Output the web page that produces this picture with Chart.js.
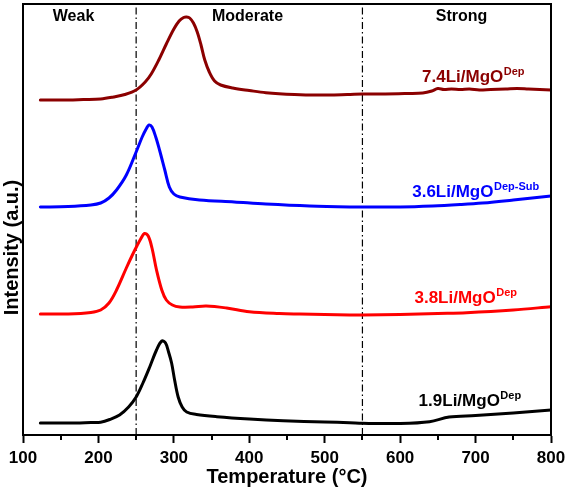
<!DOCTYPE html>
<html><head><meta charset="utf-8">
<script src="https://cdn.jsdelivr.net/npm/chart.js@4.4.0/dist/chart.umd.min.js"></script>
<style>html,body{margin:0;padding:0;background:#fff;}canvas{display:block;}</style>
</head><body>
<canvas id="c" width="571" height="489"></canvas>
<script>
// ---- data (temperature in °C, intensity in a.u. with vertical offsets as plotted) ----
const t74 = [123,150,180,203,220,235,250,262,270,280,290,300,307,313,317,321,326,331,336,341,347,354,362,378,400,422,460,490,530,550,580,610,630,642,650,658,668,680,692,705,720,740,755,770,785,800];
const i74 = [335,335,335.5,336,338,340.5,345,353,361,375,391,406,414,417.5,418,417,412,403,390,375,363,354,350,347,344.5,342.3,340.5,340,340.5,341,341,341.5,342,344,346.5,345.5,346,345.5,346,345,345.5,346,346.5,346,345.5,345];
const t36 = [123,160,190,203,214,224,237,250,258,264,267,271,276,281,288,294,300,308,334,380,422,480,533,550,600,643,680,709,750,800];
const i36 = [228,228.5,230,232,237,245,260,283,298,307,310,308,298,285,265,248,241,238,235,233,231,229,228,228,228,229,230.5,232,235,239];
const t38 = [123,160,190,203,214,224,237,245,251,256,261,266,271,277,284,290,298,308,325,343,370,400,440,467,533,550,600,650,688,750,800];
const i38 = [121,121,122.5,125,132,145,167,180,189,196,201.5,199,187,165,145,135,130,128,128,129,127,123.3,121.5,121,120,120,120.5,121.5,122.3,125,128.3];
const t19 = [123,160,190,203,215,228,240,250,259,268,277,284,289,293,297,301,305.7,311,317,330,357,400,445,500,533,550,600,639,665,700,750,800];
const i19 = [12,12,12.5,12.8,15.5,20,28,38,52,68,85,94,92,83,72,55,38,28,23,20.5,18.3,16,14.3,13,12.3,11.7,11.5,13.3,18,19.5,22,25];
const seriesNames = ['7.4Li/MgO', '3.6Li/MgO', '3.8Li/MgO', '1.9Li/MgO'];
const seriesSup = ['Dep', 'Dep-Sub', 'Dep', 'Dep'];
const regionNames = ['Weak', 'Moderate', 'Strong'];
const regionBounds = [250, 550];
const xTicks = [100,200,300,400,500,600,700,800];
const xMinor = [150,250,350,450,550,650,750];

const FONT = '"Liberation Sans", Arial, Helvetica, sans-serif';
const colors = ['#8b0000', '#0000ff', '#ff0000', '#000000'];
const yMax = 431;

function pts(t, v){ return t.map((x,i)=>({x:x, y:v[i]})); }
const lineSets = [[t74,i74],[t36,i36],[t38,i38],[t19,i19]].map((s,k)=>({
  label: seriesNames[k], data: pts(s[0], s[1]), borderColor: colors[k], borderWidth: 3,
  pointRadius: 0, fill: false, tension: 0.35, borderJoinStyle: 'round', borderCapStyle: 'round'
}));
const boundSets = regionBounds.map(b=>({
  label: 'bound'+b, data: [{x:b,y:0},{x:b,y:yMax}], borderColor:'#000', borderWidth:1.2,
  borderDash:[7,3,1.5,3], pointRadius:0, fill:false, tension: 0
}));

// label anchor positions (data coordinates)
const seriesLabelPos = [[629,353],[616,238],[619,132],[624.5,29]];
const regionLabelPos = [[167,414],[397.6,414],[681.5,414]];

const deco = {
  id: 'deco',
  afterDraw(chart){
    const ctx = chart.ctx, xs = chart.scales.x, ys = chart.scales.y, a = chart.chartArea;
    ctx.save();
    ctx.strokeStyle = '#000'; ctx.lineWidth = 2;
    ctx.strokeRect(a.left, a.top, a.right - a.left, a.bottom - a.top);
    xMinor.forEach(v=>{
      const px = Math.round(xs.getPixelForValue(v));
      ctx.beginPath(); ctx.moveTo(px, a.bottom); ctx.lineTo(px, a.bottom + 5); ctx.stroke();
    });
    ctx.fillStyle = '#000'; ctx.font = 'bold 16px ' + FONT;
    ctx.textAlign = 'center'; ctx.textBaseline = 'alphabetic';
    regionNames.forEach((n,i)=>{
      ctx.fillText(n, xs.getPixelForValue(regionLabelPos[i][0]), ys.getPixelForValue(regionLabelPos[i][1]));
    });
    ctx.textAlign = 'left';
    seriesNames.forEach((n,i)=>{
      const x = xs.getPixelForValue(seriesLabelPos[i][0]);
      const y = ys.getPixelForValue(seriesLabelPos[i][1]);
      ctx.fillStyle = colors[i];
      ctx.font = 'bold 17px ' + FONT;
      ctx.fillText(n, x, y);
      const w = ctx.measureText(n).width;
      ctx.font = 'bold 11px ' + FONT;
      ctx.fillText(seriesSup[i], x + w + 0.5, y - 7.5);
    });
    ctx.fillStyle = '#000'; ctx.font = 'bold 20px ' + FONT;
    ctx.translate(12, 247.5); ctx.rotate(-Math.PI/2);
    ctx.textAlign = 'center'; ctx.textBaseline = 'middle';
    ctx.fillText('Intensity (a.u.)', 0, 0);
    ctx.restore();
  }
};

new Chart(document.getElementById('c'), {
  type: 'line',
  data: { datasets: [...lineSets, ...boundSets] },
  options: {
    responsive: false, animation: false, devicePixelRatio: 1,
    layout: { padding: { top: 4, right: 20, left: 0, bottom: 0 } },
    plugins: { legend: { display: false }, tooltip: { enabled: false } },
    scales: {
      x: {
        type: 'linear', min: 100, max: 800,
        afterBuildTicks: s => { s.ticks = xTicks.map(v=>({value:v})); },
        afterFit: s => { s.height = 54; },
        ticks: { color: '#000', font: { family: FONT, size: 17, weight: 'bold' }, padding: 5, maxRotation: 0 },
        grid: { drawOnChartArea: false, drawTicks: true, tickLength: 8, tickColor: '#000', tickWidth: 2 },
        border: { display: true, color: '#000', width: 2 },
        title: { display: true, text: 'Temperature (°C)', color: '#000', font: { family: FONT, size: 20, weight: 'bold' }, padding: { top: 0, bottom: 0 } }
      },
      y: {
        type: 'linear', min: 0, max: yMax,
        afterFit: s => { s.width = 23; },
        ticks: { display: false },
        grid: { display: false },
        border: { display: false }
      }
    }
  },
  plugins: [deco]
});
</script>
</body></html>
